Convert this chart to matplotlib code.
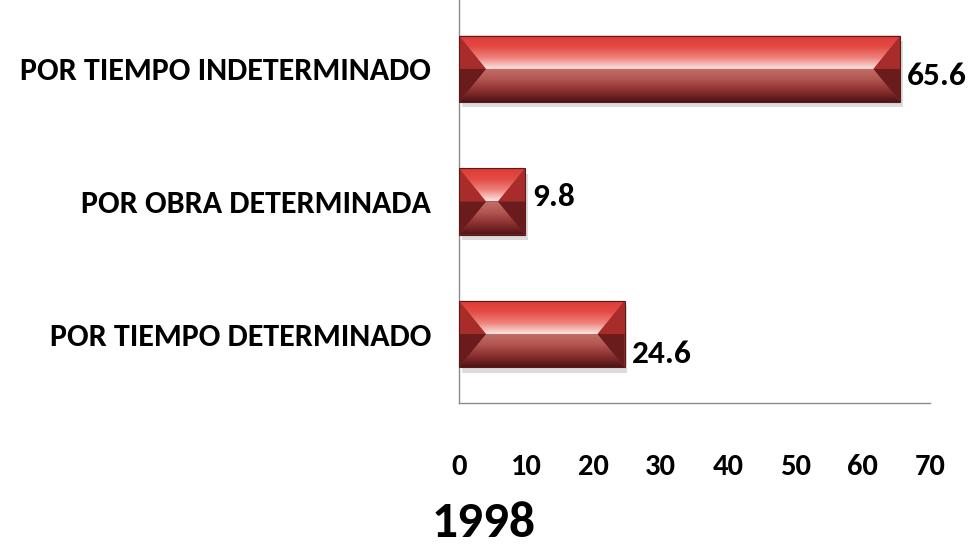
import matplotlib
matplotlib.use("Agg")
import matplotlib.pyplot as plt
import numpy as np
from matplotlib.colors import LinearSegmentedColormap
from matplotlib.patches import Polygon

categories = ["POR TIEMPO DETERMINADO", "POR OBRA DETERMINADA", "POR TIEMPO INDETERMINADO"]
values = [24.6, 9.8, 65.6]
value_labels = ["24.6", "9.8", "65.6"]
xticks = [0, 10, 20, 30, 40, 50, 60, 70]
title = "1998"

FONT = ["Carlito", "Liberation Sans Narrow", "Lato", "DejaVu Sans"]
plt.rcParams["font.family"] = FONT

top_cmap = LinearSegmentedColormap.from_list(
    "top_face", ["#dc3a34", "#e44a44", "#ee807a", "#fbe4e0"])
bot_cmap = LinearSegmentedColormap.from_list(
    "bot_face", ["#c2706a", "#b35550", "#8a3030", "#4e1414"])


def bevel_bar(ax, patch, bevel_x):
    x0, y0 = patch.get_x(), patch.get_y()
    w, h = patch.get_width(), patch.get_height()
    x1, y1 = x0 + w, y0 + h
    c = y0 + h / 2
    bw = min(bevel_x, w / 2)

    grad = np.linspace(0, 1, 64).reshape(-1, 1)
    top_poly = Polygon([(x0, y1), (x1, y1), (x1 - bw, c), (x0 + bw, c)], closed=True,
                       transform=ax.transData, facecolor="none", edgecolor="none")
    ax.add_patch(top_poly)
    im = ax.imshow(grad, extent=[x0, x1, c, y1], origin="upper", cmap=top_cmap,
                   aspect="auto", zorder=3)
    im.set_clip_path(top_poly)

    bot_poly = Polygon([(x0 + bw, c), (x1 - bw, c), (x1, y0), (x0, y0)], closed=True,
                       transform=ax.transData, facecolor="none", edgecolor="none")
    ax.add_patch(bot_poly)
    im = ax.imshow(grad, extent=[x0, x1, y0, c], origin="upper", cmap=bot_cmap,
                   aspect="auto", zorder=3)
    im.set_clip_path(bot_poly)

    # side faces
    for xe, xi in [(x0, x0 + bw), (x1, x1 - bw)]:
        ax.add_patch(Polygon([(xe, y1), (xi, c), (xe, c)], closed=True,
                             facecolor="#a82c2a", edgecolor="none", zorder=4))
        ax.add_patch(Polygon([(xe, c), (xi, c), (xe, y0)], closed=True,
                             facecolor="#6a1c1c", edgecolor="none", zorder=4))
    ax.add_patch(Polygon([(x0, y0), (x1, y0), (x1, y1), (x0, y1)], closed=True,
                         facecolor="none", edgecolor="#5a1a1a", linewidth=0.8, zorder=5))


fig = plt.figure(figsize=(9.71, 5.48), dpi=100)
ax = fig.add_axes([459 / 971, 145 / 548, 471 / 971, 403 / 548])

ypos = np.arange(len(categories))
bars = ax.barh(ypos, values, height=0.5, color="#b03a36", zorder=2)

# shadow under each bar
for b in bars:
    ax.add_patch(Polygon([(b.get_x() + 0.4, b.get_y() - 0.04),
                          (b.get_x() + b.get_width() + 0.4, b.get_y() - 0.04),
                          (b.get_x() + b.get_width() + 0.4, b.get_y() + b.get_height() - 0.04),
                          (b.get_x() + 0.4, b.get_y() + b.get_height() - 0.04)],
                         closed=True, facecolor="#dcdcdc", edgecolor="none", zorder=1))
    bevel_bar(ax, b, 4.0)

label_dy = [-14, 3, -5]
for b, lab, dy in zip(bars, value_labels, label_dy):
    ax.annotate(lab, (b.get_width(), b.get_y() + b.get_height() / 2),
                xytext=(5, dy), textcoords="offset points", ha="left", va="center",
                fontsize=24, fontweight="bold", color="black", zorder=6)

ax.set_xlim(0, 70)
ax.set_ylim(-0.52, 2.52)
ax.set_xticks(xticks)
ax.set_xticklabels([str(t) for t in xticks], fontsize=22, fontweight="bold")
ax.set_yticks(ypos)
ax.set_yticklabels(categories, fontsize=23, fontweight="bold")
ax.tick_params(axis="x", length=0, pad=37)
ax.tick_params(axis="y", length=0, pad=20)

for side in ["top", "right"]:
    ax.spines[side].set_visible(False)
for side in ["left", "bottom"]:
    ax.spines[side].set_color("#8c8c8c")
    ax.spines[side].set_linewidth(1.0)

fig.text(484 / 971, (548 - 523) / 548, title, ha="center", va="center",
         fontsize=37, fontweight="bold")

fig.savefig("out.png", dpi=100)
